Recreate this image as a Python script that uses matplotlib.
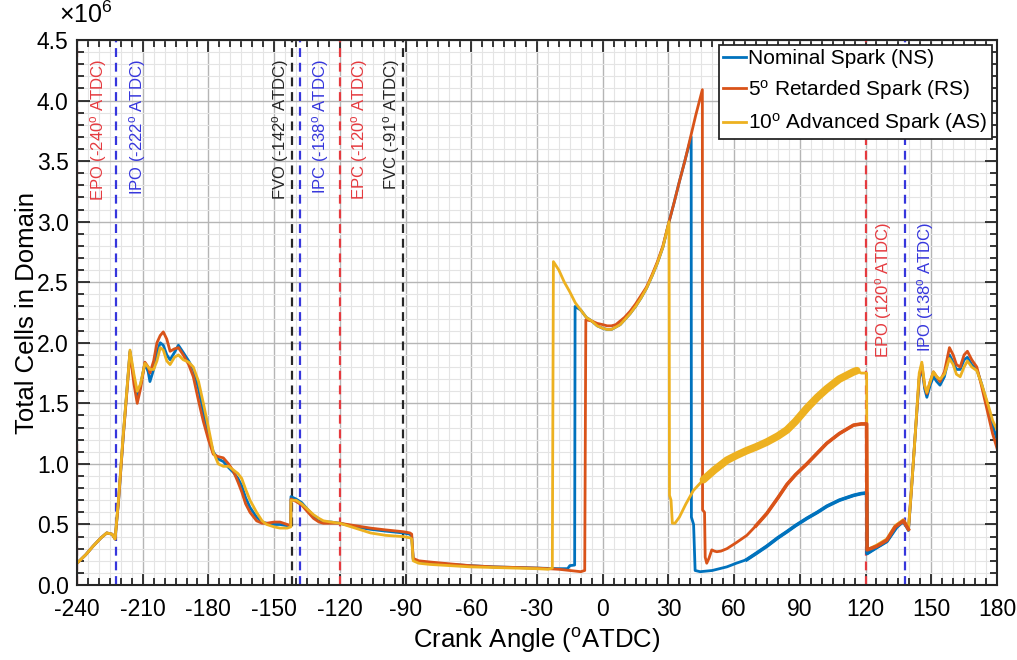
import numpy as np
import matplotlib.pyplot as plt
from matplotlib.ticker import MultipleLocator, FormatStrFormatter

plt.rcParams['font.family'] = ['Liberation Sans', 'DejaVu Sans']
plt.rcParams['mathtext.fontset'] = 'custom'
plt.rcParams['mathtext.rm'] = 'Liberation Sans'
plt.rcParams['mathtext.it'] = 'Liberation Sans:italic'
plt.rcParams['axes.unicode_minus'] = False

# Total cells (x1e6) vs crank angle
ns_x = [-240, -236, -232.7, -229, -226.4, -224, -222.6, -221, -219, -217, -215.8, -214, -212.5, -211, -209,
        -207.5, -206.7, -205, -203.5, -202, -200.6, -199, -197.5, -195.5, -193.7, -191.5, -189, -186.9,
        -184.5, -182.3, -180, -177.8, -175.5, -173.2, -170.8, -168.6, -166.5, -164.8, -163, -161, -158,
        -155.5, -153.4, -150, -147.3, -144, -142.4,
        -142.3, -140, -137.4, -135, -132, -129.5, -127.5, -124, -120, -113, -106, -99, -91, -88, -87.2,
        -86.5, -84, -78.8, -70, -60.5, -50, -40, -30, -25.5, -20, -16, -15, -12.8,
        -12.6, -10, -7.5, -5, -2.5, 0, 2, 4, 6, 8, 10, 12.5, 15, 17.5, 20, 22.5, 25, 27.5, 30.3, 32.5, 35,
        37.5, 40.4,
        40.5, 41.5, 42.2, 44.5, 50, 56.7, 61, 65.8, 70, 74.9, 80, 84.1, 88, 93.2, 98, 102.3, 108, 114.5,
        118, 120.5,
        120.7, 125.1, 129.7, 133.5, 135.8, 137.3, 139.6, 141, 142.6, 144.5, 145.7, 147, 148, 149.5, 151,
        152.5, 154, 156, 158.3, 160, 161.5, 163.2, 165, 166.5, 168.5, 170.8, 173, 176.1, 178, 180]
ns_y = [0.18, 0.25, 0.32, 0.39, 0.43, 0.42, 0.38, 0.70, 1.20, 1.65, 1.93, 1.70, 1.55, 1.65, 1.83,
        1.76, 1.68, 1.78, 1.92, 2.00, 1.98, 1.90, 1.86, 1.92, 1.98, 1.92, 1.85, 1.78,
        1.62, 1.42, 1.25, 1.10, 1.04, 1.02, 0.97, 0.93, 0.88, 0.82, 0.72, 0.64, 0.56,
        0.52, 0.51, 0.50, 0.50, 0.49, 0.49,
        0.73, 0.71, 0.68, 0.63, 0.57, 0.53, 0.52, 0.52, 0.51, 0.48, 0.46, 0.445, 0.43, 0.42, 0.40,
        0.21, 0.19, 0.18, 0.17, 0.16, 0.15, 0.145, 0.14, 0.138, 0.135, 0.135, 0.16, 0.165,
        2.30, 2.27, 2.21, 2.18, 2.14, 2.12, 2.11, 2.11, 2.13, 2.15, 2.19, 2.24, 2.30, 2.37, 2.45, 2.55,
        2.66, 2.79, 3.00, 3.15, 3.33, 3.50, 3.70,
        0.56, 0.50, 0.12, 0.11, 0.12, 0.15, 0.18, 0.21, 0.26, 0.32, 0.39, 0.44, 0.49, 0.55, 0.60, 0.65,
        0.70, 0.74, 0.755, 0.76,
        0.26, 0.31, 0.36, 0.46, 0.50, 0.52, 0.45, 0.80, 1.22, 1.70, 1.80, 1.62, 1.55, 1.65, 1.72,
        1.68, 1.65, 1.72, 1.90, 1.84, 1.78, 1.78, 1.86, 1.88, 1.82, 1.78, 1.66, 1.46, 1.32, 1.20]

rs_x = [-240, -236, -232.7, -229, -226.4, -224, -222.6, -221, -219, -217, -215.8, -214, -212.5, -211, -209,
        -207.5, -206.7, -205, -203.5, -202, -200.6, -199, -197.5, -195.5, -193.7, -191.5, -189, -186.9,
        -184.5, -182.3, -180, -177.8, -175.5, -173.2, -170.8, -168.6, -166.5, -164.8, -163, -161, -158,
        -155.5, -153.4, -150, -147.3, -144, -142.4,
        -142.3, -140, -137.4, -135, -132, -129.5, -127.5, -124, -120, -113, -106, -99, -91, -88, -87.2,
        -86.5, -84, -78.8, -70, -60.5, -50, -40, -30, -20, -10, -8.2,
        -7.7, -5, -2.5, 0, 2, 4, 6, 8, 10, 12.5, 15, 17.5, 20, 22.5, 25, 27.5, 30.3, 32.5, 35, 37.5, 40.4,
        42.5, 45.5,
        45.6, 46.5, 46.8, 47.5, 48.5, 49.8, 51, 52.1, 54, 56.7, 61, 65.8, 70, 74.9, 80, 84.1, 88, 93.2, 98,
        102.3, 108, 114.5, 118, 120.5,
        120.7, 125.1, 129.7, 133.5, 135.8, 137.3, 139.6, 141, 142.6, 144.5, 145.7, 147, 148, 149.5, 151,
        152.5, 154, 156, 158.3, 160, 161.5, 163.2, 165, 166.5, 168.5, 170.8, 173, 176.1, 178, 180]
rs_y = [0.18, 0.25, 0.32, 0.39, 0.43, 0.42, 0.38, 0.70, 1.20, 1.64, 1.92, 1.66, 1.50, 1.62, 1.84,
        1.80, 1.75, 1.85, 2.00, 2.06, 2.09, 2.03, 1.93, 1.95, 1.96, 1.90, 1.82, 1.72,
        1.52, 1.35, 1.20, 1.08, 1.06, 1.05, 1.00, 0.94, 0.85, 0.77, 0.67, 0.60, 0.53,
        0.51, 0.51, 0.52, 0.52, 0.50, 0.49,
        0.71, 0.69, 0.66, 0.61, 0.55, 0.52, 0.51, 0.51, 0.51, 0.49, 0.47, 0.455, 0.44, 0.43, 0.42,
        0.22, 0.20, 0.19, 0.175, 0.16, 0.15, 0.145, 0.14, 0.13, 0.11, 0.12,
        2.19, 2.18, 2.16, 2.15, 2.14, 2.14, 2.15, 2.18, 2.21, 2.26, 2.32, 2.39, 2.46, 2.56,
        2.67, 2.80, 3.00, 3.15, 3.33, 3.50, 3.72, 3.88, 4.09,
        0.62, 0.60, 0.23, 0.18, 0.22, 0.29, 0.28, 0.275, 0.28, 0.30, 0.35, 0.41, 0.49, 0.59, 0.72, 0.83,
        0.91, 1.00, 1.09, 1.17, 1.25, 1.32, 1.33, 1.33,
        0.29, 0.32, 0.37, 0.48, 0.51, 0.53, 0.46, 0.80, 1.22, 1.72, 1.82, 1.64, 1.58, 1.68, 1.76,
        1.72, 1.68, 1.76, 1.96, 1.90, 1.82, 1.80, 1.90, 1.93, 1.86, 1.80, 1.64, 1.40, 1.25, 1.13]

as_x = [-240, -236, -232.7, -229, -226.4, -224, -222.6, -221, -219, -217, -215.8, -214, -212.5, -211, -209,
        -207.5, -206.7, -205, -203.5, -202, -200.6, -199, -197.5, -195.5, -193.7, -191.5, -189, -186.9,
        -184.5, -182.3, -180, -177.8, -175.5, -173.2, -170.8, -168.6, -166.5, -164.8, -163, -161, -158,
        -155.5, -153.4, -150, -147.3, -144, -142.4,
        -142.3, -140, -137.4, -135, -132, -129.5, -127.5, -124, -120, -113, -106, -99, -91, -88, -87.2,
        -86.5, -84, -78.8, -70, -60.5, -50, -40, -30, -25, -23,
        -22.5, -20, -17.5, -15, -12.5, -10, -7.5, -5, -2.5, 0, 2, 4, 6, 8, 10, 12.5, 15, 17.5, 20, 22.5, 25,
        27.5, 30.3,
        30.5, 31.2, 31.8, 33, 35, 38, 41.4, 46, 51, 56.7, 61, 65.8, 70, 74.9, 80, 84.1, 88, 93.2, 98,
        102.3, 108, 114.5, 116, 118, 120.5,
        120.7, 125.1, 129.7, 133.5, 135.8, 137.3, 139.6, 141, 142.6, 144.5, 145.7, 147, 148, 149.5, 151,
        152.5, 154, 156, 158.3, 160, 161.5, 163.2, 165, 166.5, 168.5, 170.8, 173, 176.1, 178, 180]
as_y = [0.18, 0.25, 0.32, 0.39, 0.43, 0.42, 0.38, 0.72, 1.22, 1.66, 1.94, 1.74, 1.60, 1.66, 1.83,
        1.80, 1.78, 1.78, 1.85, 1.96, 1.94, 1.85, 1.82, 1.88, 1.90, 1.86, 1.84, 1.80,
        1.68, 1.50, 1.30, 1.10, 1.00, 0.98, 0.98, 0.95, 0.92, 0.88, 0.79, 0.70, 0.60,
        0.53, 0.50, 0.48, 0.47, 0.47, 0.48,
        0.70, 0.70, 0.67, 0.63, 0.58, 0.55, 0.53, 0.52, 0.51, 0.47, 0.43, 0.41, 0.40, 0.39, 0.38,
        0.20, 0.18, 0.17, 0.16, 0.15, 0.145, 0.14, 0.135, 0.13, 0.14,
        2.67, 2.60, 2.50, 2.42, 2.33, 2.27, 2.21, 2.18, 2.14, 2.12, 2.11, 2.11, 2.13, 2.15, 2.19, 2.24,
        2.30, 2.37, 2.45, 2.55, 2.66, 2.79, 3.00,
        0.74, 0.70, 0.51, 0.51, 0.56, 0.67, 0.78, 0.87, 0.95, 1.03, 1.07, 1.11, 1.14, 1.18, 1.23, 1.28,
        1.35, 1.46, 1.55, 1.62, 1.70, 1.76, 1.77, 1.75, 1.75,
        0.29, 0.33, 0.38, 0.49, 0.52, 0.54, 0.47, 0.80, 1.22, 1.75, 1.84, 1.65, 1.59, 1.68, 1.76,
        1.72, 1.70, 1.74, 1.87, 1.82, 1.74, 1.72, 1.80, 1.85, 1.80, 1.77, 1.66, 1.48, 1.36, 1.28]

# valve / event markers
ev_angle = [-240, -222, -142, -138, -120, -91, 120, 138]
ev_name = ['EPO', 'IPO', 'FVO', 'IPC', 'EPC', 'FVC', 'EPO', 'IPO']
ev_kind = ['r', 'b', 'k', 'b', 'r', 'k', 'r', 'b']
ev_label_x = [-230.4, -212.6, -147.3, -129.0, -110.8, -96.2, 128.0, 147.2]
ev_label_top = [4.34, 4.34, 4.34, 4.34, 4.34, 4.34, 3.0, 3.0]

kind_color = {'r': '#e53a3f', 'b': '#3636dc', 'k': '#262626'}

c_ns = '#0072BD'
c_rs = '#D95319'
c_as = '#EDB120'

fig = plt.figure(figsize=(10.17, 6.6), dpi=100)
ax = fig.add_axes([0.0757, 0.1136, 0.9046, 0.8258])

ax.plot(ns_x, ns_y, color=c_ns, lw=2, label='Nominal Spark (NS)', zorder=3)
ax.plot(rs_x, rs_y, color=c_rs, lw=2, label='5$^{\\rm o}$ Retarded Spark (RS)', zorder=3)
ax.plot(as_x, as_y, color=c_as, lw=2, label='10$^{\\rm o}$ Advanced Spark (AS)', zorder=3)

# the AS curve oscillates after re-meshing, which reads as a thick band
as_xa = np.array(as_x)
as_ya = np.array(as_y)
band = (as_xa >= 46) & (as_xa <= 116)
ax.plot(as_xa[band], as_ya[band], color=c_as, lw=5.5, solid_capstyle='round', zorder=3)
ax.plot(ns_x[105:122], ns_y[105:122], color=c_ns, lw=2.6, zorder=3)
ax.plot(rs_x[108:127], rs_y[108:127], color=c_rs, lw=2.6, zorder=3)

for a, n, k, lx, ly in zip(ev_angle, ev_name, ev_kind, ev_label_x, ev_label_top):
    col = kind_color[k]
    ax.axvline(a, color=col, lw=1.6, ls=(0, (4, 2.6)), zorder=2.5)
    ax.text(lx, ly, '%s (%d$^{\\rm o}$ ATDC)' % (n, a), rotation=90, color=col,
            ha='center', va='top', fontsize=12)

ax.set_xlim(-240, 180)
ax.set_ylim(0, 4.5)
ax.xaxis.set_major_locator(MultipleLocator(30))
ax.xaxis.set_minor_locator(MultipleLocator(5))
ax.yaxis.set_major_locator(MultipleLocator(0.5))
ax.yaxis.set_minor_locator(MultipleLocator(0.1))
ax.yaxis.set_major_formatter(FormatStrFormatter('%.1f'))

ax.grid(True, which='major', color='#b5b5b5', lw=1.0, zorder=0)
ax.grid(True, which='minor', color='#e4e4e4', lw=0.8, zorder=0)
ax.set_axisbelow(True)

ax.tick_params(which='both', direction='in', top=True, right=True, color='#262626', width=1.3,
               labelsize=16.5)
ax.tick_params(axis='x', pad=9)
ax.tick_params(axis='y', pad=6)
ax.tick_params(which='major', length=9)
ax.tick_params(which='minor', length=5)
for s in ax.spines.values():
    s.set_linewidth(1.5)
    s.set_color('#262626')
    s.set_zorder(4)

ax.set_xlabel('Crank Angle ($^{\\rm o}$ATDC)', fontsize=18.5, labelpad=4)
ax.set_ylabel('Total Cells in Domain', fontsize=18.5)
ax.yaxis.set_label_coords(-0.041, 0.5)
ax.text(-0.02, 1.022, '$\\times$10$^{6}$', transform=ax.transAxes, fontsize=18, ha='left', va='bottom')

leg = ax.legend(loc='upper right', fontsize=15, frameon=True, fancybox=False, framealpha=1,
                edgecolor='#262626', handlelength=1.1, handletextpad=0.1, borderpad=0.2,
                labelspacing=0.45, borderaxespad=0.25)
leg.get_frame().set_linewidth(1.3)
for h in leg.get_lines():
    h.set_linewidth(2)

fig.savefig('out.png', dpi=100)
